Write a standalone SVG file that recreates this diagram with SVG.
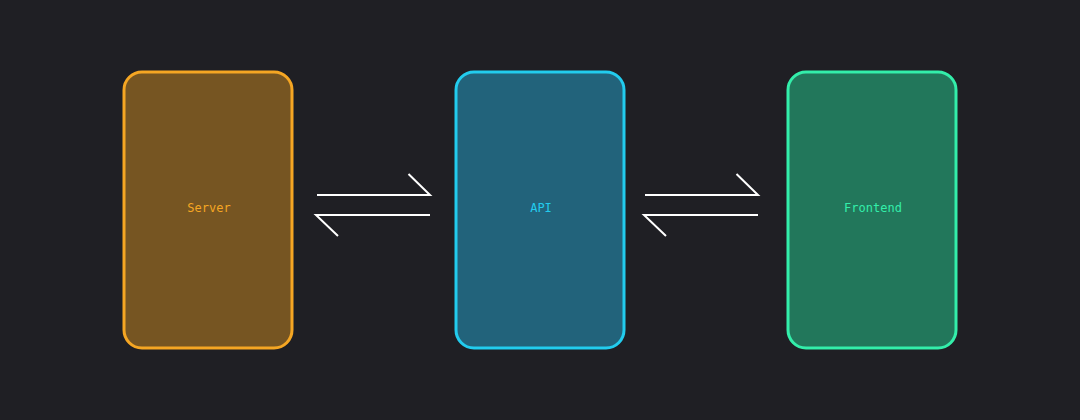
<svg xmlns="http://www.w3.org/2000/svg" width="1080" height="420" viewBox="0 0 1080 420">
<style>
.node{stroke-width:3}
.lbl{font-family:"DejaVu Sans Mono","Liberation Mono",monospace;font-size:12px;text-anchor:middle;dominant-baseline:central}
.edge{stroke:#ffffff;stroke-width:2;fill:none;stroke-linecap:butt}
</style>
<rect width="1080" height="420" fill="#1f1f24"/>
<g id="server">
<rect class="node" x="124" y="72" width="168" height="276" rx="18" fill="#765522" stroke="#f5a623"/>
<text class="lbl" x="209" y="208" fill="#f5a623">Server</text>
</g>
<g id="api">
<rect class="node" x="456" y="72" width="168" height="276" rx="18" fill="#22637b" stroke="#22ccee"/>
<text class="lbl" x="541" y="208" fill="#22ccee">API</text>
</g>
<g id="frontend">
<rect class="node" x="788" y="72" width="168" height="276" rx="18" fill="#22775b" stroke="#33eeaa"/>
<text class="lbl" x="873" y="208" fill="#33eeaa">Frontend</text>
</g>
<g id="connectors">
<path class="edge" d="M317 195 H430 L408.5 174"/>
<path class="edge" d="M430 215 H316 L338 236"/>
<path class="edge" d="M645 195 H758 L736.5 174"/>
<path class="edge" d="M758 215 H644 L666 236"/>
</g>
</svg>
